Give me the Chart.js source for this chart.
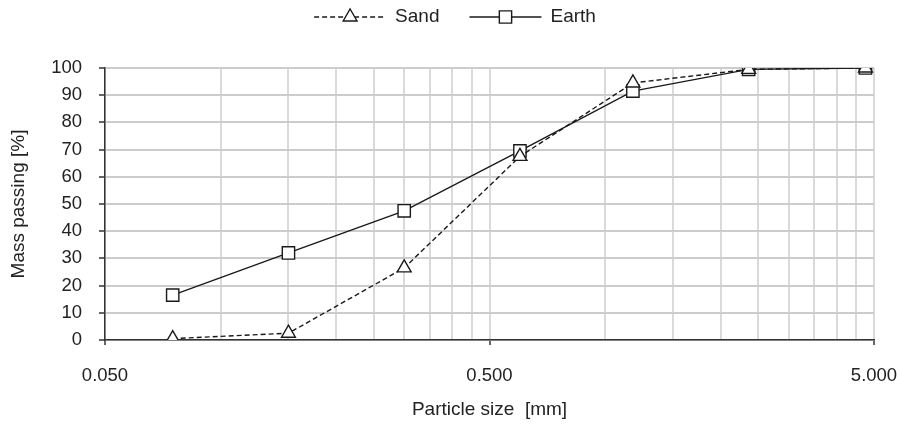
<!DOCTYPE html>
<html>
<head>
<meta charset="utf-8">
<title>Grading curves</title>
<script src="https://cdn.jsdelivr.net/npm/chart.js"></script>
<style>
  html, body { margin: 0; padding: 0; background: #fff; }
  #wrap { width: 900px; height: 432px; }
</style>
</head>
<body>
<div id="wrap"><canvas id="grading"></canvas></div>
<script>
// sieve openings [mm] and mass passing [%]
const sieveSizes = [0.075, 0.15, 0.3, 0.6, 1.18, 2.36, 4.75];
const sandPassing = [0.5, 2.5, 26.5, 67.5, 94.5, 99.5, 100];
const earthPassing = [16.5, 32, 47.5, 69.5, 91.5, 99.5, 100];

// labelled x ticks
const xLabelValues = [0.05, 0.5, 5];
const xLabelText = ["0.050", "0.500", "5.000"];

// y ticks every 10 %
const yMin = 0, yMax = 100, yStep = 10;

const FONT = { family: "'Liberation Sans', Arial, sans-serif", size: 19 };
const TICK_FONT = { family: "'Liberation Sans', Arial, sans-serif", size: 18.5 };
const TEXT = "#222";

// minor grid at every multiple of the decade start (0.05, 0.10, 0.15 ... 4.5, 5)
const gridSteps = [];
[0.05, 0.5].forEach(d => {
    for (let k = 1; k <= 9; k++) gridSteps.push(+(d * k).toFixed(4));
});
gridSteps.push(5);

function xLabelIndex(v) {
    return xLabelValues.findIndex(t => Math.abs(t - v) < 1e-9);
}

function toPoints(values) {
    return sieveSizes.map((x, i) => ({ x: x, y: values[i] }));
}

// legend with a line sample and marker, drawn like an office chart legend
const lineLegend = {
    id: "lineLegend",
    afterDraw(chart) {
        const ctx = chart.ctx;
        const sample = 72, gap = 9, spacing = 30, centerX = 455, y = 17;
        ctx.save();
        ctx.font = FONT.size + "px " + FONT.family;
        const items = chart.data.datasets.map(ds => ({
            ds: ds,
            w: sample + gap + ctx.measureText(ds.label).width
        }));
        const total = items.reduce((a, it) => a + it.w, 0) + spacing * (items.length - 1);
        let x = centerX - total / 2;
        items.forEach(({ ds, w }) => {
            ctx.strokeStyle = ds.borderColor;
            ctx.lineWidth = ds.borderWidth;
            ctx.setLineDash(ds.borderDash || []);
            ctx.beginPath();
            ctx.moveTo(x, y);
            ctx.lineTo(x + sample, y);
            ctx.stroke();
            ctx.setLineDash([]);

            ctx.fillStyle = ds.pointBackgroundColor;
            ctx.strokeStyle = ds.pointBorderColor;
            ctx.lineWidth = ds.pointBorderWidth;
            Chart.helpers.drawPoint(ctx, {
                pointStyle: ds.pointStyle,
                radius: ds.pointRadius,
                borderWidth: ds.pointBorderWidth,
                rotation: 0
            }, x + sample / 2, y);

            ctx.fillStyle = TEXT;
            ctx.textBaseline = "middle";
            ctx.textAlign = "left";
            ctx.fillText(ds.label, x + sample + gap, y);
            x += w + spacing;
        });
        ctx.restore();
    }
};

const ctx = document.getElementById("grading").getContext("2d");

new Chart(ctx, {
    type: "line",
    data: {
        datasets: [{
            label: "Sand",
            data: toPoints(sandPassing),
            borderColor: "#1a1a1a",
            borderWidth: 1.4,
            borderDash: [5, 3],
            pointStyle: "triangle",
            pointRadius: 8,
            pointBackgroundColor: "#fff",
            pointBorderColor: "#1a1a1a",
            pointBorderWidth: 1.4
        }, {
            label: "Earth",
            data: toPoints(earthPassing),
            borderColor: "#1a1a1a",
            borderWidth: 1.4,
            pointStyle: "rect",
            pointRadius: 8.7,
            pointBackgroundColor: "#fff",
            pointBorderColor: "#1a1a1a",
            pointBorderWidth: 1.4
        }]
    },
    options: {
        responsive: true,
        maintainAspectRatio: false,
        animation: false,
        layout: { padding: { top: 68, right: 26, bottom: 0, left: 0 } },
        plugins: {
            legend: { display: false },
            tooltip: { enabled: false }
        },
        scales: {
            x: {
                type: "logarithmic",
                min: 0.05,
                max: 5,
                afterBuildTicks: s => { s.ticks = gridSteps.map(v => ({ value: v })); },
                afterFit: s => {
                    s.height = 92;
                    // end labels may overhang the plot area
                    s.paddingLeft = 0;
                    s.paddingRight = 0;
                },
                ticks: {
                    autoSkip: false,
                    maxRotation: 0,
                    padding: 20,
                    font: TICK_FONT,
                    color: TEXT,
                    callback: v => {
                        const i = xLabelIndex(v);
                        return i >= 0 ? xLabelText[i] : "";
                    }
                },
                grid: {
                    color: "#dadada",
                    lineWidth: 2,
                    tickLength: 5,
                    tickWidth: 1.5,
                    tickColor: c => (c.tick && xLabelIndex(c.tick.value) >= 0) ? "#333" : "rgba(0,0,0,0)"
                },
                border: { color: "#333", width: 1.5 },
                title: {
                    display: true,
                    text: "Particle size  [mm]",
                    font: FONT,
                    color: TEXT,
                    padding: { top: 0, bottom: 11 }
                }
            },
            y: {
                min: yMin,
                max: yMax,
                afterFit: s => { s.width = 105; },
                ticks: { stepSize: yStep, padding: 17, font: TICK_FONT, color: TEXT },
                grid: {
                    color: "#cccccc",
                    lineWidth: 2,
                    tickLength: 6,
                    tickWidth: 1.5,
                    tickColor: "#333"
                },
                border: { color: "#333", width: 1.5 },
                title: {
                    display: true,
                    text: "Mass passing [%]",
                    font: FONT,
                    color: TEXT,
                    padding: { top: 7, bottom: 0 }
                }
            }
        }
    },
    plugins: [lineLegend]
});
</script>
</body>
</html>
